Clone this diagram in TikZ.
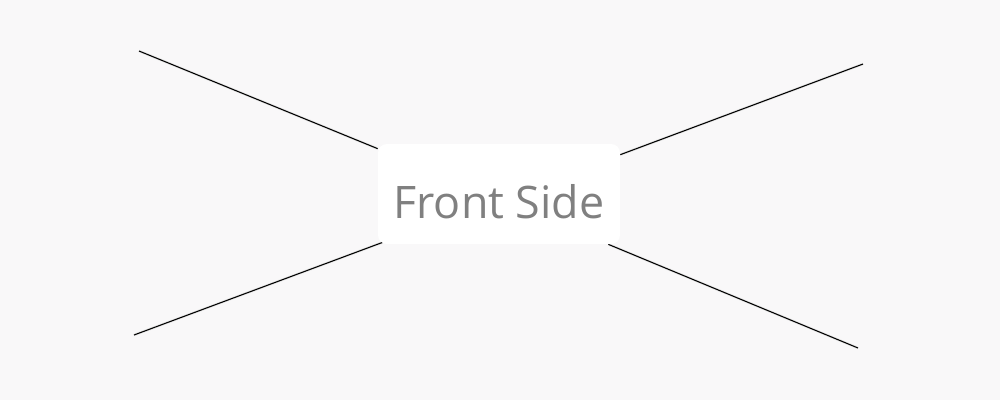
\documentclass[tikz,border=0pt]{standalone}
\usepackage{fontspec}
\setmainfont{Open Sans}
\usepackage{tikz}
\usetikzlibrary{positioning,backgrounds}
\definecolor{pagebg}{RGB}{249,248,249}
\definecolor{labgray}{RGB}{128,128,128}
\tikzset{
  sidebox/.style ={draw=none, rounded corners=5pt, fill=white,
                   minimum width=4.84cm, minimum height=2cm,
                   text height=0.97cm, text depth=0pt,
                   inner sep=0pt, font=\fontsize{25.5}{30}\selectfont,
                   text=labgray},
  ray/.style     ={line width=0.6pt, black},
  rayshadow/.style={line width=1.4pt, black!10, yshift=-0.9pt},
}

\begin{document}
\begin{tikzpicture}[x=0.02cm, y=-0.02cm]
  \useasboundingbox (0,0) rectangle (1000,400);
  \node[sidebox] (front) at (499,194) {Front Side};
  \coordinate (tl) at (139,51);
  \coordinate (tr) at (863,64);
  \coordinate (bl) at (134,335);
  \coordinate (br) at (858,348);
  \begin{scope}[on background layer]
    \fill[pagebg] (0,0) rectangle (1000,400);
    \draw[rayshadow] (tl) -- ([yshift=-0.1cm]front.north west);
    \draw[rayshadow] (tr) -- ([yshift=-0.22cm]front.north east);
    \draw[rayshadow] (bl) -- ([xshift=0.1cm,yshift=0.04cm]front.south west);
    \draw[rayshadow] (br) -- ([xshift=-0.24cm]front.south east);
    \draw[ray] (tl) -- ([yshift=-0.1cm]front.north west);
    \draw[ray] (tr) -- ([yshift=-0.22cm]front.north east);
    \draw[ray] (bl) -- ([xshift=0.1cm,yshift=0.04cm]front.south west);
    \draw[ray] (br) -- ([xshift=-0.24cm]front.south east);
  \end{scope}
\end{tikzpicture}
\end{document}
